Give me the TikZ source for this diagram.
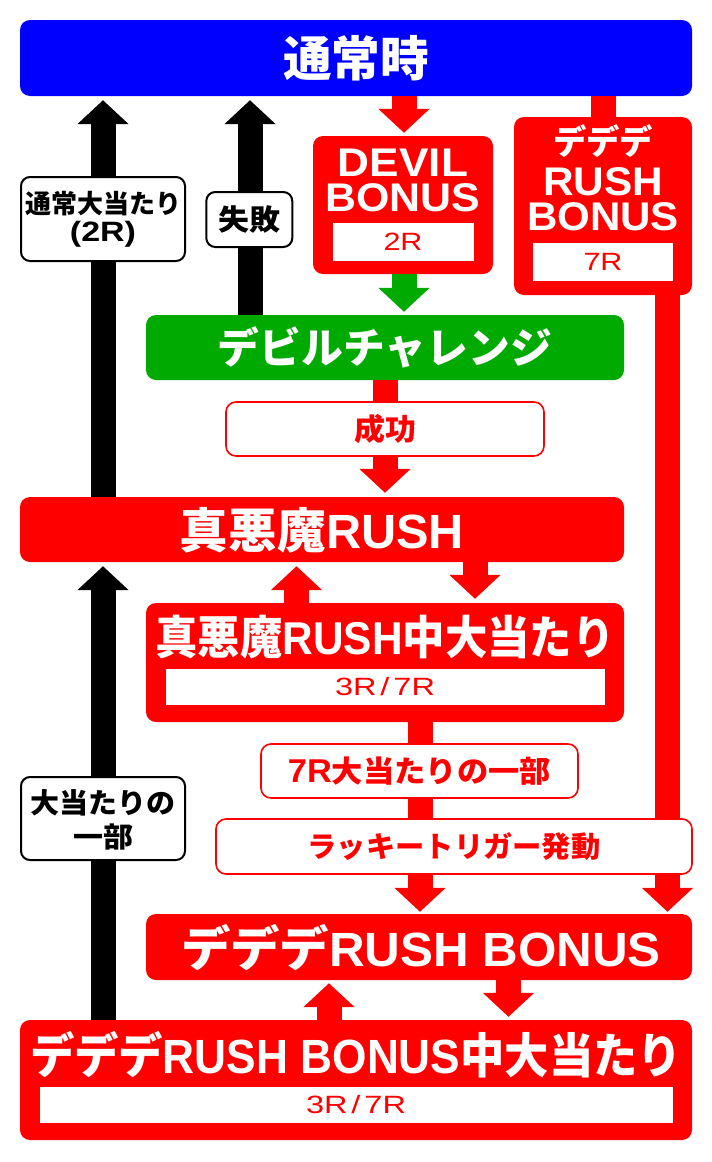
\documentclass[tikz,border=0pt]{standalone}
\usepackage{fontspec}
\usepackage{graphicx}
\setmainfont{Noto Sans CJK JP}
\newfontfamily\jpf{Noto Sans CJK JP}
\newfontfamily\laf{Liberation Sans}
\usetikzlibrary{arrows.meta}
\newcommand\fs[1]{\fontsize{#1}{#1}\selectfont}
\newcommand\la[1]{{\laf\bfseries #1}}
\newcommand\fw[2]{\resizebox{#1pt}{\height}{#2}}
\definecolor{pred}{RGB}{255,0,0}
\definecolor{pblue}{RGB}{0,0,255}
\definecolor{pgreen}{RGB}{0,170,0}
\begin{document}
\begin{tikzpicture}[x=1pt,y=-1pt,
  bx/.style 2 args={minimum width=#1pt, minimum height=#2pt, inner sep=0pt, rounded corners=10pt},
  ib/.style 2 args={minimum width=#1pt, minimum height=#2pt, inner sep=0pt, fill=white, text=pred, font=\laf\fs{25}},
  lb/.style 2 args={minimum width=#1pt, minimum height=#2pt, inner sep=0pt, rounded corners=9pt, draw=black, line width=2pt, fill=white},
  rl/.style 2 args={minimum width=#1pt, minimum height=#2pt, inner sep=0pt, rounded corners=10pt, draw=pred, line width=1.6pt, fill=white, text=pred},
  wt/.style={text=white, inner sep=0pt},
  bt/.style={text=black, inner sep=0pt},
  arr/.style={line width=25pt, -{Triangle[width=50pt,length=24pt]}},
  bar/.style={line width=25pt}
]
\useasboundingbox (0,0) rectangle (712,1162);
\fill[white] (0,0) rectangle (712,1162);

% main boxes
\node[bx={672}{76}, fill=pblue] (normal) at (356,58) {};
\node[bx={180}{138}, fill=pred] (devil) at (403,205) {};
\node[bx={178}{178}, fill=pred] (dede) at (603,206) {};
\node[bx={478}{65}, fill=pgreen] (chal) at (385,347.5) {};
\node[bx={604}{65}, fill=pred] (rush) at (322,529.5) {};
\node[bx={478}{119}, fill=pred] (rushhit) at (385,662.5) {};
\node[bx={546}{66}, fill=pred] (ddbonus) at (419,947) {};
\node[bx={672}{120}, fill=pred] (ddhit) at (356,1080) {};

% texts in main boxes
\node[wt, font=\bfseries\fs{48}] (tnormal) at (356,58) {\fw{146}{通常時}};
\node[wt, align=center, font=\laf\bfseries\fontsize{40}{35}\selectfont] (tdevil) at (403,180.5) {\fw{130}{DEVIL}\\\fw{155}{BONUS}};
\node[ib={141}{38}] (devilin) at (403,242) {\fw{39}{2R}};
\node[wt, align=center, font=\laf\bfseries\fontsize{40}{35}\selectfont] (tdede) at (603,177.5) {\fw{100}{\jpf\bfseries\fs{34}デデデ}\\[6pt]\fw{120}{RUSH}\\\fw{152}{BONUS}};
\node[ib={140}{38}] (dedein) at (603,262) {\fw{39}{7R}};
\node[wt, font=\bfseries\fs{42}] (tchal) at (385,347) {\fw{334}{デビルチャレンジ}};
\node[wt, font=\bfseries\fs{48}] (trush) at (322,530) {\fw{284}{真悪魔\la{RUSH}}};
\node[wt, font=\bfseries\fs{46}] (trushhit) at (385,637) {\fw{459}{真悪魔\la{RUSH}中大当たり}};
\node[ib={439}{36}] (rushhitin) at (385,687) {\fw{100}{3R\hspace{3pt}/\hspace{3pt}7R}};
\node[wt, font=\bfseries\fs{48}] (tddbonus) at (421,948) {\fw{480}{デデデ\la{RUSH BONUS}}};
\node[wt, font=\bfseries\fs{48}] (tddhit) at (356,1055) {\fw{652}{デデデ\la{RUSH BONUS}中大当たり}};
\node[ib={633}{36}] (ddhitin) at (356,1105) {\fw{100}{3R\hspace{3pt}/\hspace{3pt}7R}};

% arrow x positions
\coordinate (xa) at (103,0);
\coordinate (xb) at (250,0);
\coordinate (xc) at (404,0);
\coordinate (xd) at (385,0);
\coordinate (xe) at (603,0);
\coordinate (xf) at (667.5,0);
\coordinate (xg) at (296.5,0);
\coordinate (xh) at (475,0);
\coordinate (xi) at (420,0);
\coordinate (xj) at (329,0);
\coordinate (xk) at (508.5,0);

% connectors
\draw[arr, black, shorten >=4pt] (rush.north -| xa) -- (normal.south -| xa);
\draw[arr, black, shorten >=4pt] (chal.north -| xb) -- (normal.south -| xb);
\draw[arr, black, shorten >=4pt] (ddhit.north -| xa) -- (rush.south -| xa);
\draw[arr, pred, shorten >=3pt] (normal.south -| xc) -- (devil.north -| xc);
\draw[arr, pgreen, shorten >=3pt] (devil.south -| xc) -- (chal.north -| xc);
\draw[arr, pred, shorten >=4pt] (chal.south -| xd) -- (rush.north -| xd);
\draw[bar, pred] (normal.south -| xe) -- (dede.north -| xe);
\draw[arr, pred, shorten >=2pt] (dede.south -| xf) -- (ddbonus.north -| xf);
\draw[arr, pred, shorten >=4pt] (rushhit.north -| xg) -- (rush.south -| xg);
\draw[arr, pred, shorten >=4pt] (rush.south -| xh) -- (rushhit.north -| xh);
\draw[arr, pred, shorten >=2pt] (rushhit.south -| xi) -- (ddbonus.north -| xi);
\draw[arr, pred, shorten >=3pt] (ddhit.north -| xj) -- (ddbonus.south -| xj);
\draw[arr, pred, shorten >=3pt] (ddbonus.south -| xk) -- (ddhit.north -| xk);

% label boxes on the connectors
\node[lb={164}{84}] (lbl1) at (103,219) {};
\node[bt, font=\bfseries\fs{26}] (tlbl1a) at (103,204) {\fw{156}{通常大当たり}};
\node[bt, font=\laf\bfseries\fs{28}] (tlbl1b) at (103,234) {\fw{66}{(2R)}};
\node[lb={86}{55}, font=\bfseries\fs{29}] (lbl2) at (249.3,219.5) {\fw{62}{失敗}};
\node[lb={164}{83}] (lbl3) at (103,818.5) {};
\node[bt, font=\bfseries\fs{28}] (tlbl3a) at (103,803) {\fw{145}{大当たりの}};
\node[bt, font=\bfseries\fs{28}] (tlbl3b) at (103,837) {\fw{60}{一部}};
\node[rl={318}{54}, font=\bfseries\fs{30}] (seiko) at (385,429) {\fw{62}{成功}};
\node[rl={317}{54}, font=\bfseries\fs{30}] (r7) at (419.5,771) {\fw{263}{{\laf\bfseries\fs{33}7R}大当たりの一部}};
\node[rl={476}{55}, font=\bfseries\fs{29}] (lucky) at (454,846.5) {\fw{293}{ラッキートリガー発動}};
\end{tikzpicture}
\end{document}
